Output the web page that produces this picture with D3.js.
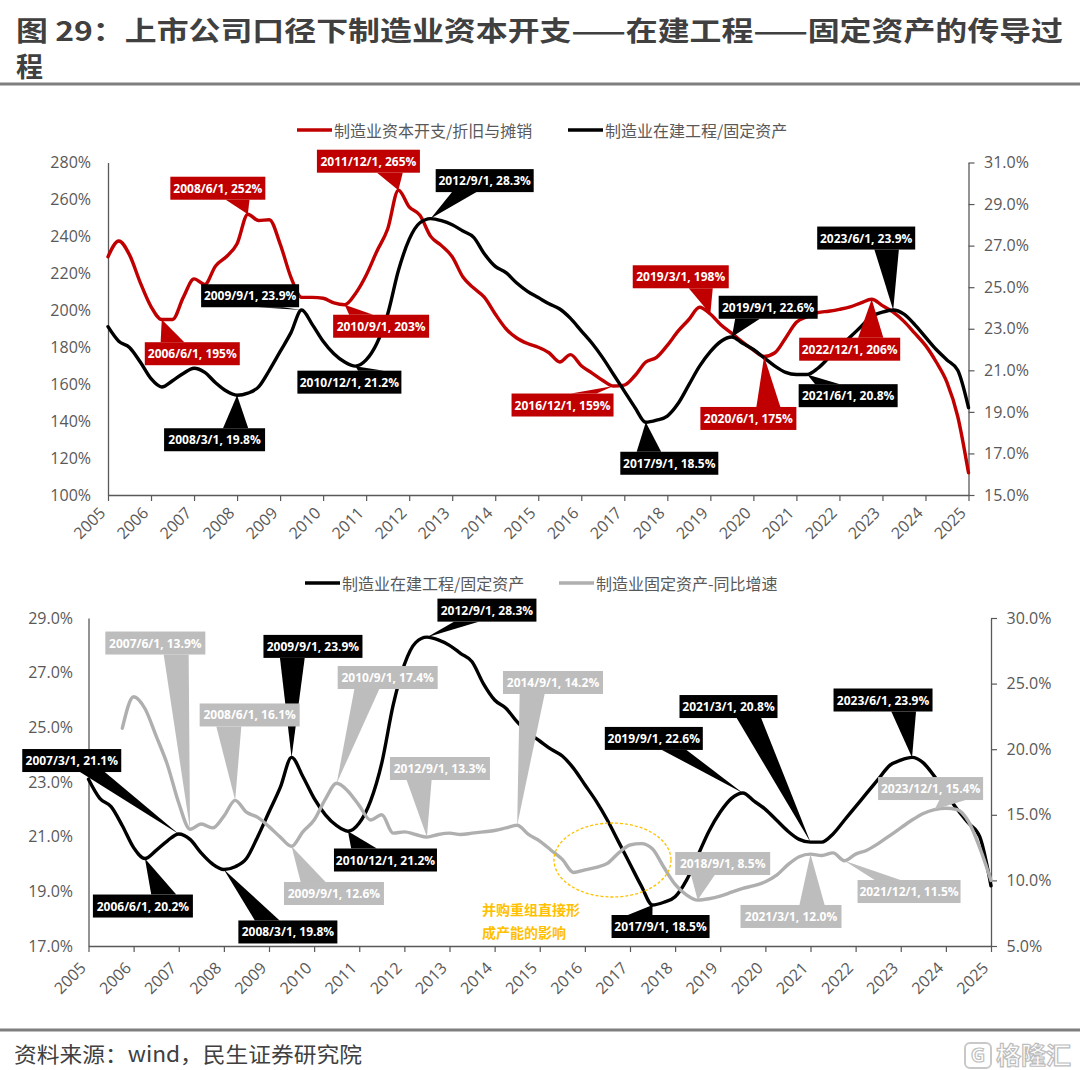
<!DOCTYPE html>
<html><head><meta charset="utf-8">
<script src="https://cdn.jsdelivr.net/npm/d3@7"></script>
<style>body{margin:0;background:#fff}svg{display:block}</style>
</head><body>
<svg id="c" width="1080" height="1070"></svg>
<script>
// ---------- DATA ----------
const years = d3.range(2005, 2026);               // x-axis tick labels
const quarterDates = ['2005/3/1','2005/6/1','2005/9/1','2005/12/1'];
for (let y = 2006; y <= 2024; y++) for (const m of [3,6,9,12]) quarterDates.push(`${y}/${m}/1`);
quarterDates.push('2025/3/1');

// 制造业资本开支/折旧与摊销 (%)
const capexToDep = [
  229,237.5,230,215,
  202,195,195,207,
  217,214,224,229,
  236,252,248.6,249,
  236,218,207,207,
  206.5,204,203,209,
  219,232,244,265,
  256,251.4,240,235,
  229,218,212,207,
  198,190,185,182,
  180,177,172,176,
  170,166,162,159,
  159.5,164.7,172,174.5,
  181,188.7,195,201.6,
  198,192,187.5,182.8,
  178.5,175,177,185,
  193.5,196.5,198.7,199.5,
  200.5,201.8,204,206,
  202.5,199,194,187.6,
  181,172,161,142.5,
  112
];
// 制造业在建工程/固定资产 (%)
const cipToFixed = [
  23.1,22.4,22.1,21.4,
  20.6,20.2,20.5,20.85,
  21.1,20.9,20.4,20.0,
  19.8,19.9,20.2,21.0,
  21.9,22.8,23.9,23.2,
  22.4,21.8,21.4,21.2,
  21.5,22.3,23.7,25.8,
  27.3,28.1,28.3,28.2,
  28.0,27.7,27.4,26.6,
  26.0,25.7,25.2,24.8,
  24.5,24.2,23.95,23.5,
  22.9,22.3,21.6,20.8,
  20.0,19.2,18.5,18.6,
  18.8,19.4,20.3,21.2,
  21.9,22.4,22.6,22.3,
  22.0,21.6,21.2,20.9,
  20.8,20.8,21.1,21.6,
  22.1,22.6,23.1,23.6,
  23.8,23.9,23.7,23.2,
  22.6,22.0,21.5,21.0,
  19.2
];
// 制造业固定资产-同比增速 (%), starts 2005/12
const fixedAssetYoY = [
  null,null,null,21.6,
  24.0,23.1,21.0,18.8,
  15.9,13.9,14.3,14.0,
  14.9,16.1,15.2,14.8,
  14.1,13.3,12.6,13.7,
  14.6,16.2,17.4,16.8,
  15.7,14.6,15.0,13.6,
  13.7,13.5,13.3,13.5,
  13.6,13.5,13.6,13.7,
  13.8,14.0,14.2,13.5,
  13.0,12.3,11.6,10.6,
  10.8,11.0,11.3,12.1,
  12.7,12.8,12.4,11.0,
  9.7,8.9,8.5,8.6,
  8.8,9.1,9.4,9.6,
  9.9,10.4,11.2,11.8,
  12.0,11.9,12.1,11.5,
  12.0,12.3,12.8,13.4,
  14.0,14.6,15.1,15.4,
  15.5,15.4,14.5,12.5,
  10.0
];
const seriesNames = {
  capex: '制造业资本开支/折旧与摊销',
  cip: '制造业在建工程/固定资产',
  yoy: '制造业固定资产-同比增速'
};
const leftTicksTop = d3.range(100, 281, 20);
const rightTicksTop = d3.range(15, 31.1, 2);
const leftTicksBot = d3.range(17, 29.1, 2);
const rightTicksBot = d3.range(5, 30.1, 5);

// annotated points (series, date)
const topNotes = [
  ['capex','2008/6/1'],['capex','2011/12/1'],['cip','2012/9/1'],['cip','2009/9/1'],
  ['capex','2010/9/1'],['capex','2006/6/1'],['cip','2010/12/1'],['cip','2008/3/1'],
  ['capex','2016/12/1'],['cip','2017/9/1'],['capex','2019/3/1'],['cip','2019/9/1'],
  ['capex','2020/6/1'],['cip','2021/6/1'],['capex','2022/12/1'],['cip','2023/6/1']
];
const bottomNotes = [
  ['yoy','2007/6/1'],['cip','2009/9/1'],['cip','2012/9/1'],['yoy','2010/9/1'],
  ['yoy','2008/6/1'],['cip','2007/3/1'],['yoy','2012/9/1'],['yoy','2014/9/1'],
  ['cip','2019/9/1'],['cip','2021/3/1'],['cip','2023/6/1'],['yoy','2023/12/1'],
  ['cip','2006/6/1'],['cip','2008/3/1'],['yoy','2009/9/1'],['cip','2010/12/1'],
  ['cip','2017/9/1'],['yoy','2018/9/1'],['yoy','2021/3/1'],['yoy','2021/12/1']
];

// ---------- LAYOUT (box offset from point, box width) ----------
const topNoteBoxes = [
  [-30,-26,95],[-30,-29,103],[54,-38,98],[-51.5,-14.3,98],
  [36.5,21.5,96],[30.5,34.2,95],[-6,16,104],[-22.5,44.5,101],
  [-51,19,102],[23.5,41,98],[-29.6,-37.2,96],[36.3,-29.8,99],
  [-15.75,62,96],[41,21.2,99],[-22,50,101],[-27,-72,98]
];
const bottomNoteBoxes = [
  [-34.7,-186.2,100],[21.4,-111,99],[60,-27,99],[51,-105.8,100],
  [14.5,-85.4,100],[-107,-73.4,99],[13,-68.6,100],[35.8,-142.8,100],
  [-89,-54.5,98],[-82,-135.6,98],[-29,-57.4,99],[-4,-21,105],
  [-2,47.5,100],[64,62.5,99],[42.4,47.2,100],[37.5,28.8,103],
  [8,21.5,98],[25,-36.6,95],[-19.5,62.3,101],[64.7,30.8,103]
];

// ---------- STYLE ----------
const COL = { capex:'#C00000', cip:'#000000', yoy:'#AFAFAF' };
const BOX = { capex:'#C00000', cip:'#000000', yoy:'#BDBDBD' };
const AX = '#595959';
const LAT = "'Open Sans','Noto Sans',sans-serif";
const CJK = "'Noto Sans CJK SC','Noto Sans',sans-serif";

const svg = d3.select('#c');
const toT = s => { const [y,m] = s.split('/').map(Number); return y + (m-1)/12; };
const dataOf = { capex: capexToDep, cip: cipToFixed, yoy: fixedAssetYoY };
const fmtVal = (k, v) => k === 'capex' ? `${v}%` : `${v.toFixed(1)}%`;

function callout(g, tx, ty, cx, cy, w, h, fill, label) {
  const l = cx - w/2, t = cy - h/2, r = cx + w/2, b = cy + h/2;
  const dx = tx - cx, dy = ty - cy;
  const dq = dx * h / w;
  let p1, p2;
  if (Math.abs(dy) - Math.abs(dq) > 0) {
    const ye = dy > 0 ? b : t;
    p1 = [l + w*(dx > 0 ? 7 : 2)/12, ye];
    p2 = [l + w*(dx > 0 ? 10 : 5)/12, ye];
  } else {
    const xe = dx > 0 ? r : l;
    p1 = [xe, t + h*(dy > 0 ? 7 : 2)/12];
    p2 = [xe, t + h*(dy > 0 ? 10 : 5)/12];
  }
  g.append('path').attr('d', `M${p1[0]},${p1[1]}L${tx},${ty}L${p2[0]},${p2[1]}Z`).attr('fill', fill);
  g.append('rect').attr('x', l).attr('y', t).attr('width', w).attr('height', h).attr('fill', fill);
  g.append('text').attr('x', cx).attr('y', cy).attr('text-anchor','middle').attr('dominant-baseline','central')
    .attr('fill','#fff').style('font-family', LAT).style('font-size','12px').style('font-weight','700').text(label);
}

function panel(o) {
  const g = svg.append('g');
  const x = d3.scaleLinear().domain([toT('2005/3/1'), toT('2025/3/1')]).range([o.x0, o.x1]);
  const yL = d3.scaleLinear().domain(o.leftDomain).range([o.y1, o.y0]);
  const yR = d3.scaleLinear().domain(o.rightDomain).range([o.y1, o.y0]);
  const scaleOf = k => o.axisOf[k] === 'L' ? yL : yR;

  const gl = g.append('g').attr('transform', `translate(${o.x0},0)`)
    .call(d3.axisLeft(yL).tickValues(o.leftTicks).tickSize(0).tickSizeOuter(0).tickPadding(o.padL).tickFormat(o.fmtL));
  const gr = g.append('g').attr('transform', `translate(${o.x1},0)`)
    .call(d3.axisRight(yR).tickValues(o.rightTicks).tickSize(6).tickSizeOuter(0).tickPadding(o.padR).tickFormat(o.fmtR));
  const gb = g.append('g').attr('transform', `translate(0,${o.y1})`)
    .call(d3.axisBottom(x).tickValues(years.map(yv => yv + 2/12)).tickSize(6).tickSizeOuter(0).tickFormat((d,i) => years[i]));
  gb.selectAll('text').attr('x', 0).attr('y', 0).attr('dy', 0)
    .attr('transform', `translate(-2,${o.labelDrop}) rotate(-45)`).style('text-anchor','end');
  [gl, gr, gb].forEach(a => {
    a.select('.domain').attr('stroke', AX).attr('stroke-width', 1.3);
    a.selectAll('.tick line').attr('stroke', AX).attr('stroke-width', 1.2);
    a.selectAll('text').attr('fill', AX).style('font-family', LAT).style('font-size', '16px');
  });

  o.order.forEach(k => {
    const ys = scaleOf(k);
    const line = d3.line().defined(d => d != null).x((d,i) => x(toT(quarterDates[i]))).y(d => ys(d)).curve(d3.curveMonotoneX);
    g.append('path').datum(dataOf[k]).attr('d', line).attr('fill','none')
      .attr('stroke', COL[k]).attr('stroke-width', 3.4).attr('stroke-linejoin','round').attr('stroke-linecap','round');
  });

  if (o.extra) o.extra(g, x, yL, yR);

  const gc = g.append('g');
  o.notes.forEach(([k, d], i) => {
    const v = dataOf[k][quarterDates.indexOf(d)];
    const tx = x(toT(d)), ty = scaleOf(k)(v);
    const [ox, oy, w] = o.boxes[i];
    callout(gc, tx, ty, tx + ox, ty + oy, w, 23, BOX[k], `${d}, ${fmtVal(k, v)}`);
  });

  const lg = g.append('g');
  o.legend.forEach(([k, lx, ly]) => {
    lg.append('line').attr('x1', lx).attr('x2', lx + 35).attr('y1', ly).attr('y2', ly)
      .attr('stroke', COL[k]).attr('stroke-width', 3.4);
    lg.append('text').attr('x', lx + 37).attr('y', ly).attr('dominant-baseline','central')
      .attr('fill', AX).style('font-family', CJK).style('font-size','16px').text(seriesNames[k]);
  });
}

// ---------- TITLE ----------
svg.append('text').attr('x', 16).attr('y', 41).attr('textLength', 1047).attr('lengthAdjust','spacingAndGlyphs')
  .attr('fill', '#404040').style('font-family', CJK).style('font-size','27px').style('font-weight','700')
  .text('图 29：上市公司口径下制造业资本开支——在建工程——固定资产的传导过');
svg.append('text').attr('x', 16).attr('y', 77)
  .attr('fill', '#404040').style('font-family', CJK).style('font-size','27px').style('font-weight','700').text('程');
svg.append('line').attr('x1',0).attr('x2',1080).attr('y1',84).attr('y2',84).attr('stroke','#7F7F7F').attr('stroke-width',3);

// ---------- TOP PANEL ----------
panel({
  x0: 108, x1: 968.5, y0: 162.5, y1: 495,
  leftDomain: [100, 280], rightDomain: [15, 31],
  leftTicks: leftTicksTop, rightTicks: rightTicksTop,
  fmtL: d => d + '%', fmtR: d => d.toFixed(1) + '%',
  padL: 17, padR: 9.5, labelDrop: 19,
  axisOf: { capex: 'L', cip: 'R' },
  order: ['capex', 'cip'],
  notes: topNotes, boxes: topNoteBoxes,
  legend: [['capex', 297, 130], ['cip', 568, 130]]
});

// ---------- BOTTOM PANEL ----------
panel({
  x0: 88.5, x1: 991, y0: 618, y1: 946,
  leftDomain: [17, 29], rightDomain: [5, 30],
  leftTicks: leftTicksBot, rightTicks: rightTicksBot,
  fmtL: d => d.toFixed(1) + '%', fmtR: d => d.toFixed(1) + '%',
  padL: 15.5, padR: 9.5, labelDrop: 23,
  axisOf: { cip: 'L', yoy: 'R' },
  order: ['cip', 'yoy'],
  notes: bottomNotes, boxes: bottomNoteBoxes,
  legend: [['cip', 305, 583], ['yoy', 559, 583]],
  extra: (g) => {
    g.append('ellipse').attr('cx', 612.5).attr('cy', 860).attr('rx', 58.5).attr('ry', 37)
      .attr('fill','none').attr('stroke','#FFC000').attr('stroke-width',1.3).attr('stroke-dasharray','3,2');
    g.append('text').attr('x', 482).attr('y', 909).attr('dominant-baseline','central')
      .attr('fill','#FFC000').style('font-family', CJK).style('font-size','14px').style('font-weight','700').text('并购重组直接形');
    g.append('text').attr('x', 482).attr('y', 932).attr('dominant-baseline','central')
      .attr('fill','#FFC000').style('font-family', CJK).style('font-size','14px').style('font-weight','700').text('成产能的影响');
  }
});

// ---------- FOOTER ----------
svg.append('line').attr('x1',0).attr('x2',1080).attr('y1',1030).attr('y2',1030).attr('stroke','#7F7F7F').attr('stroke-width',3);
svg.append('text').attr('x', 14).attr('y', 1062).attr('textLength', 348).attr('lengthAdjust','spacingAndGlyphs')
  .attr('fill','#404040').style('font-family', CJK).style('font-size','21px').text('资料来源：wind，民生证券研究院');
svg.append('rect').attr('x', 965).attr('y', 1043).attr('width', 26).attr('height', 25).attr('rx', 5)
  .attr('fill','none').attr('stroke','#C8C8C8').attr('stroke-width',2);
svg.append('text').attr('x', 978).attr('y', 1062).attr('text-anchor','middle')
  .attr('fill','none').attr('stroke','#C0C0C0').attr('stroke-width',1.2).style('font-family', LAT).style('font-size','20px').style('font-weight','700').text('G');
svg.append('text').attr('x', 996).attr('y', 1064).attr('textLength', 75).attr('lengthAdjust','spacingAndGlyphs')
  .attr('fill','#fff').attr('stroke','#BDBDBD').attr('stroke-width',1.2).style('font-family', CJK).style('font-size','24px').style('font-weight','700').text('格隆汇');
</script>
</body></html>
